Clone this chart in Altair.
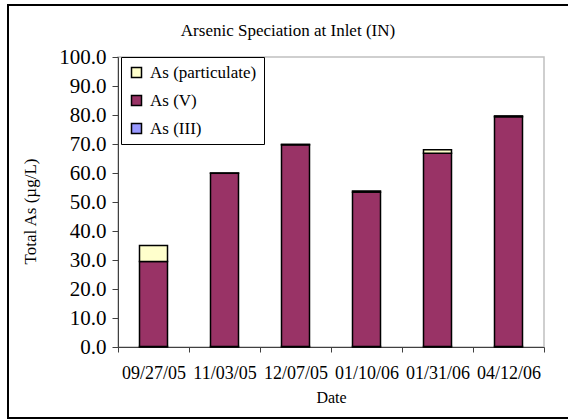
import altair as alt
import pandas as pd

# Sampling dates at the inlet
dates = ["09/27/05", "11/03/05", "12/07/05", "01/10/06", "01/31/06", "04/12/06"]

# Arsenic species concentrations (µg/L)
as_iii = [0.2, 0.2, 0.2, 0.2, 0.2, 0.2]
as_v = [29.3, 59.7, 69.5, 53.2, 66.6, 79.2]
as_part = [5.5, 0.1, 0.2, 0.4, 1.2, 0.3]

species = ["As (particulate)", "As (V)", "As (III)"]
colors = ["#FFFFCC", "#993366", "#9999FF"]
stack_rank = {"As (III)": 0, "As (V)": 1, "As (particulate)": 2}

rows = []
for i, d in enumerate(dates):
    for name, vals in (("As (III)", as_iii), ("As (V)", as_v), ("As (particulate)", as_part)):
        rows.append({"Date": d, "Species": name, "Value": vals[i], "rank": stack_rank[name]})
df = pd.DataFrame(rows)

serif = "Liberation Serif"

bars = alt.Chart(df).mark_bar(size=28, stroke="black", strokeWidth=1.5).encode(
    x=alt.X(
        "Date:N",
        sort=dates,
        scale=alt.Scale(paddingInner=0, paddingOuter=0),
        axis=alt.Axis(
            title="Date",
            labelAngle=0,
            tickBand="extent",
            tickSize=5,
            labelPadding=12,
            titlePadding=7,
        ),
    ),
    y=alt.Y(
        "Value:Q",
        stack="zero",
        scale=alt.Scale(domain=[0, 100], nice=False),
        axis=alt.Axis(
            title="Total As (µg/L)",
            values=list(range(0, 101, 10)),
            format=".1f",
            tickSize=6,
            labelPadding=6,
            titleX=-79,
            titleY=154,
            grid=False,
        ),
    ),
    color=alt.Color(
        "Species:N",
        scale=alt.Scale(domain=species, range=colors),
        legend=alt.Legend(
            title=None,
            orient="none",
            legendX=3,
            legendY=0,
            fillColor="white",
            strokeColor="black",
            padding=7,
            symbolType="square",
            symbolSize=100,
            symbolStrokeColor="black",
            symbolStrokeWidth=1.5,
            rowPadding=10,
            labelOffset=5,
        ),
    ),
    order=alt.Order("rank:Q", sort="ascending"),
)

# Outer frame around the whole figure
frame = alt.Chart(pd.DataFrame({"k": [0]})).mark_rect(
    fill=None, stroke="black", strokeWidth=2
).encode(
    x=alt.value(-110), x2=alt.value(480), y=alt.value(-52), y2=alt.value(361)
)

# Chart heading
heading = alt.Chart(pd.DataFrame({"t": ["Arsenic Speciation at Inlet (IN)"]})).mark_text(
    font=serif, fontSize=17, color="black", align="center", baseline="middle"
).encode(text="t:N", x=alt.value(170), y=alt.value(-26))

chart = (
    alt.layer(frame, bars, heading)
    .properties(
        width=426,
        height=290,
        autosize="none",
        padding={"left": 118, "top": 57, "right": 24, "bottom": 72},
    )
    .configure(font=serif)
    .configure_view(stroke="#C0C0C0", strokeWidth=1.5)
    .configure_axis(
        domainColor="#404040",
        tickColor="#404040",
        labelColor="black",
        titleColor="black",
        labelFont=serif,
        titleFont=serif,
        titleFontWeight="normal",
    )
    .configure_axisX(labelFontSize=18, titleFontSize=16)
    .configure_axisY(labelFontSize=21, titleFontSize=17)
    .configure_legend(labelFont=serif, labelFontSize=17, labelColor="black")
)

chart.save("out.html", embed_options={"renderer": "svg", "actions": False})
